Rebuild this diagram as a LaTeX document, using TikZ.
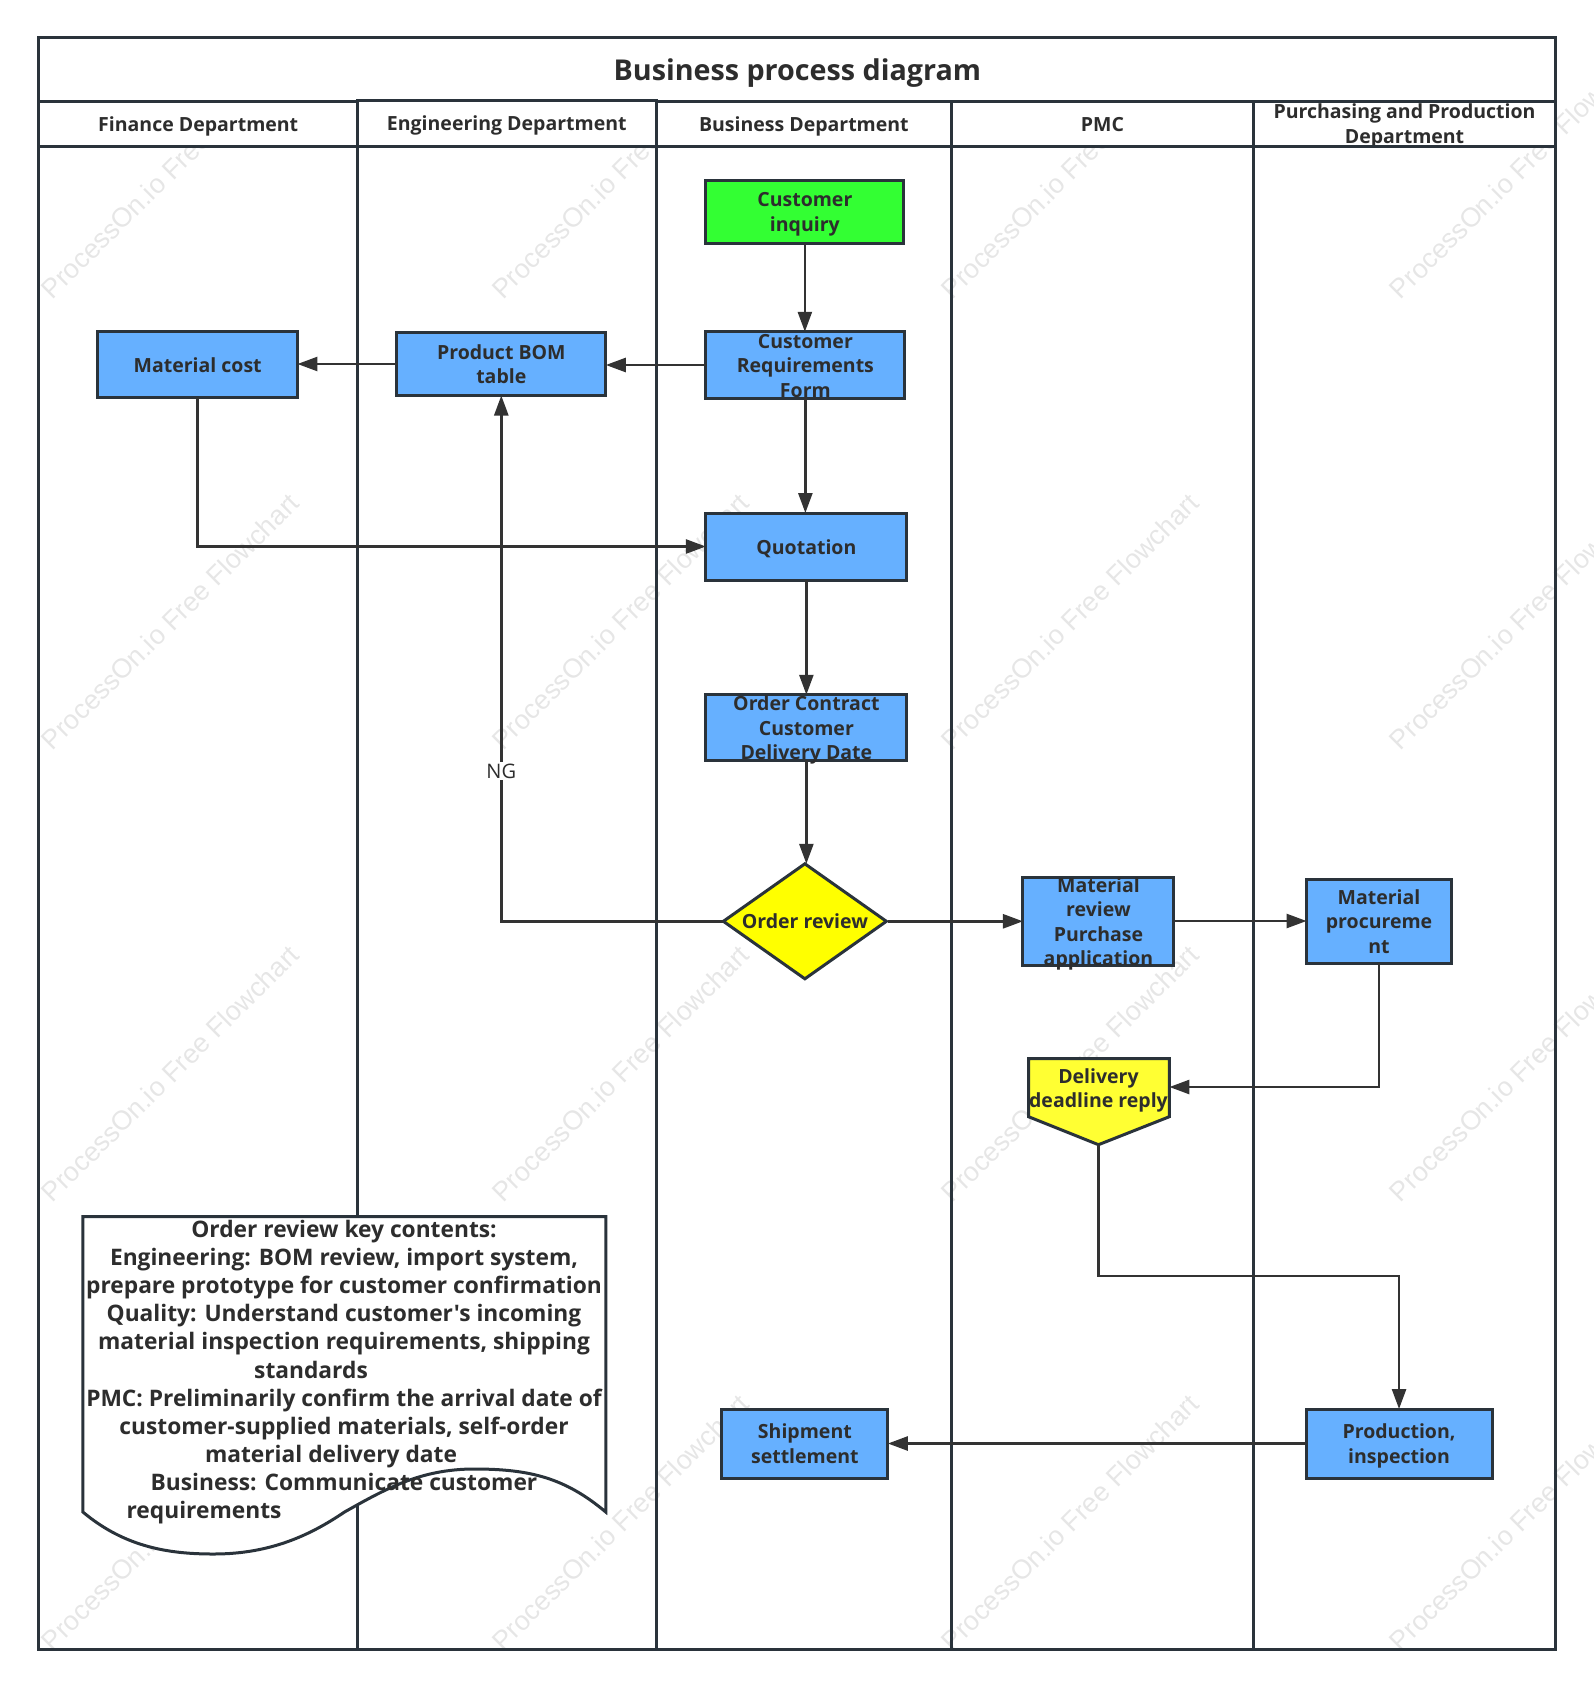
\documentclass[tikz,border=0pt]{standalone}
\usepackage{fontspec}
\usetikzlibrary{arrows.meta,shapes.geometric}
\newfontfamily\labfam{Open Sans}
\newfontfamily\wmfont{Liberation Sans}
\definecolor{edge}{HTML}{2A333B}
\definecolor{conn}{HTML}{333333}
\definecolor{ink}{HTML}{2D2D2D}
\definecolor{boxblue}{HTML}{66B0FF}
\definecolor{boxgreen}{HTML}{33FF33}
\definecolor{boxyellow}{HTML}{FFFF00}
\definecolor{softyellow}{HTML}{FFFF33}
\definecolor{wm}{HTML}{E6E6E6}
\newcommand{\boxtext}[1]{\raisebox{-.4em}[0pt][0pt]{\begin{tabular}{@{}c@{}}#1\end{tabular}}}
\tikzset{
  labfont/.style={font=\labfam\fontsize{19.5}{24.5}\selectfont\bfseries,text=ink},
  lanehead/.style={draw=edge,line width=3pt,fill=white,rectangle,inner sep=0,outer sep=0,labfont},
  procbox/.style={draw=edge,line width=3pt,fill=boxblue,rectangle,inner sep=0,outer sep=0,labfont},
  flow/.style={draw=conn,line width=2.6pt,-{Triangle[length=20pt,width=14pt]}},
  watermark/.style={rotate=44.8,anchor=south west,inner sep=0,text=wm,font=\wmfont\fontsize{27}{30}\selectfont},
}
\begin{document}
\begin{tikzpicture}[x=0.9986pt,y=-1pt,shift={(1pt,0)}]
\useasboundingbox (-1,0) rectangle (1595.2,1686);
\clip (-1,0) rectangle (1595.2,1686);
% watermarks
\foreach \wx in {52,503,953,1402}{
  \foreach \wy in {301,752,1204,1653}{
    \node[watermark] at (\wx,\wy) {ProcessOn.io Free Flowchart};
  }
}
% title and headers
\node[lanehead,minimum width=1517pt,minimum height=63pt,font=\labfam\fontsize{28.7}{32}\selectfont\bfseries] (title) at (797.5,69.5) {\raisebox{2pt}{\boxtext{Business process diagram}}};
\node[lanehead,minimum width=318.5pt,minimum height=45pt] (hFin) at (197.5,123.5) {\boxtext{Finance Department}};
\node[lanehead,minimum width=295.5pt,minimum height=45pt] (hBus) at (804,123.5) {\boxtext{Business Department}};
\node[lanehead,minimum width=301.5pt,minimum height=45pt] (hPmc) at (1103,123.5) {\boxtext{PMC}};
\node[lanehead,minimum width=302.5pt,minimum height=45pt] (hPur) at (1405.5,123.5) {\boxtext{Purchasing and Production\\Department}};
\node[lanehead,minimum width=298.5pt,minimum height=46pt] (hEng) at (506.5,123) {\boxtext{Engineering Department}};
% lane bodies
\draw[edge,line width=3pt] (38,146) rectangle (357,1649);
\draw[edge,line width=3pt] (357,146) rectangle (656,1649);
\draw[edge,line width=3pt] (656,146) rectangle (952,1649);
\draw[edge,line width=3pt] (952,146) rectangle (1254,1649);
\draw[edge,line width=3pt] (1254,146) rectangle (1557,1649);
% process boxes
\node[procbox,fill=boxgreen,minimum width=198pt,minimum height=63pt] (inquiry) at (805,211.5) {\boxtext{Customer\\inquiry}};
\node[procbox,minimum width=199pt,minimum height=66.5pt] (reqform) at (805.5,365) {\boxtext{Customer\\Requirements\\Form}};
\node[procbox,minimum width=199.5pt,minimum height=66pt] (matcost) at (197,364.5) {\boxtext{Material cost}};
\node[procbox,minimum width=209pt,minimum height=63pt] (bom) at (501,364) {\boxtext{Product BOM\\table}};
\node[procbox,minimum width=201pt,minimum height=67pt] (quote) at (806.5,546.5) {\boxtext{Quotation}};
\node[procbox,minimum width=201pt,minimum height=65.5pt] (contract) at (806.5,727.5) {\boxtext{Order Contract\\Customer\\Delivery Date}};
\node[diamond,draw=edge,line width=3pt,fill=boxyellow,inner sep=0,outer sep=0,aspect=1.42,minimum width=163pt,minimum height=115pt,labfont] (decision) at (805,921.3) {\boxtext{Order review}};
\node[procbox,minimum width=151pt,minimum height=87.5pt] (matreview) at (1099,921.5) {\boxtext{Material\\review\\Purchase\\application}};
\node[procbox,minimum width=145pt,minimum height=84pt] (procure) at (1380,921) {\boxtext{Material\\procureme\\nt}};
\node[procbox,minimum width=166pt,minimum height=69pt] (ship) at (805,1443.5) {\boxtext{Shipment\\settlement}};
\node[procbox,minimum width=186pt,minimum height=69pt] (prod) at (1400,1443.5) {\boxtext{Production,\\inspection}};
% delivery off-page connector
\coordinate (dlE) at (1170,1087);
\coordinate (dlS) at (1099,1144.7);
\draw[edge,line width=3pt,fill=softyellow,line join=miter] (1029,1058.7) -- (1170,1058.7) -- (1170,1116.7) -- (dlS) -- (1029,1116.7) -- cycle;
\node[labfont,inner sep=0] (delivery) at (1099,1088) {\boxtext{Delivery\\deadline reply}};
% connectors
\draw[flow] (inquiry.south) -- (inquiry.south |- reqform.north);
\draw[flow] (reqform.west) -- (reqform.west -| bom.east);
\draw[flow] (bom.west) -- (bom.west -| matcost.east);
\draw[flow] (reqform.south) -- (reqform.south |- quote.north);
\draw[flow] (matcost.south) |- (quote.west);
\draw[flow] (quote.south) -- (quote.south |- contract.north);
\draw[flow] (contract.south) -- (contract.south |- decision.north);
\draw[flow] (decision.west) -| (bom.south);
\draw[flow,shorten <=2pt] (decision.east) -- (decision.east -| matreview.west);
\draw[flow] (matreview.east |- procure.west) -- (procure.west);
\draw[flow] (procure.south) |- (dlE);
\draw[flow] (dlS) |- (1276,1276) -| (prod.north);
\draw[flow] (prod.west) -- (ship.east);
\node[fill=white,inner sep=2pt,font=\labfam\fontsize{20}{24}\selectfont,text=ink] (ng) at (501,771) {NG};
% note document
\draw[edge,line width=3pt,fill=white,line join=miter] (82,1512) -- (82,1216.7) -- (605.6,1216.7) -- (605.6,1512)
  .. controls (565,1478) and (530,1469) .. (474,1469)
  .. controls (420,1469) and (385,1489) .. (344,1512)
  .. controls (310,1535) and (270,1554) .. (213,1554)
  .. controls (170,1554) and (125,1548) .. (82,1512) -- cycle;
\node[inner sep=0,text=ink,font=\labfam\fontsize{22.75}{28.1}\selectfont\bfseries] (notetext) at (343.5,1368.5) {\boxtext{Order review key contents:\\
Engineering: BOM review, import system,\\
prepare prototype for customer confirmation\\
Quality: Understand customer's incoming\\
material inspection requirements, shipping\\
\hspace*{-66pt}standards\\
PMC: Preliminarily confirm the arrival date of\\
customer-supplied materials, self-order\\
\hspace*{-26pt}material delivery date\\
Business: Communicate customer\\
\hspace*{-280pt}requirements}};
\end{tikzpicture}
\end{document}
